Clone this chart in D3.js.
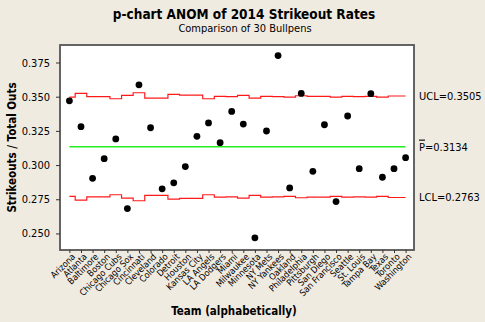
<!DOCTYPE html>
<html><head><meta charset="utf-8">
<script src="https://cdn.jsdelivr.net/npm/d3@7"></script>
<style>
html,body{margin:0;padding:0;background:#F0EBE1;}
svg{display:block;}
text{font-family:"DejaVu Sans Condensed","DejaVu Sans",sans-serif;fill:#000;}
</style></head>
<body>
<svg id="c" width="485" height="322"></svg>
<script>
const teams = ["Arizona","Atlanta","Baltimore","Boston","Chicago Cubs","Chicago Sox","Cincinnati","Cleveland","Colorado","Detroit","Houston","Kansas City","LA Angels","LA Dodgers","Miami","Milwaukee","Minnesota","NY Mets","NY Yankees","Oakland","Philadelphia","Pittsburgh","San Diego","San Francisco","Seattle","St. Louis","Tampa Bay","Texas","Toronto","Washington"];
const rate = [0.3470,0.3281,0.2903,0.3047,0.3191,0.2682,0.3587,0.3273,0.2826,0.2870,0.2989,0.3210,0.3308,0.3164,0.3392,0.3300,0.2468,0.3249,0.3801,0.2833,0.3524,0.2954,0.3295,0.2733,0.3359,0.2974,0.3522,0.2911,0.2974,0.3054];
const ucl = [0.3497,0.3524,0.3500,0.3500,0.3485,0.3509,0.3529,0.3490,0.3490,0.3517,0.3512,0.3512,0.3485,0.3502,0.3500,0.3509,0.3490,0.3502,0.3500,0.3497,0.3507,0.3502,0.3502,0.3497,0.3502,0.3500,0.3502,0.3497,0.3505,0.3505];
const lcl = [0.2771,0.2744,0.2768,0.2768,0.2783,0.2759,0.2739,0.2778,0.2778,0.2751,0.2756,0.2756,0.2783,0.2766,0.2768,0.2759,0.2778,0.2766,0.2768,0.2771,0.2761,0.2766,0.2766,0.2771,0.2766,0.2768,0.2766,0.2771,0.2763,0.2763];
const pBar = 0.3134;
const yTicks = [0.250,0.275,0.300,0.325,0.350,0.375];
const limitLabels = {ucl:"UCL=0.3505", p:"=0.3134", lcl:"LCL=0.2763"};

const svg = d3.select("#c");
const L=60,T=45,R=414,B=250;
const x = d3.scalePoint().domain(teams).range([69.4,405.6]);
const y = d3.scaleLinear().domain([0.2379,0.3878]).range([B,T]);
const step = x.step();

svg.append("rect").attr("x",L).attr("y",T).attr("width",R-L).attr("height",B-T)
  .attr("fill","#fff").attr("stroke","#555").attr("stroke-width",1.8);

// y axis
const ya = svg.append("g").attr("transform",`translate(${L},0)`)
  .call(d3.axisLeft(y).tickValues(yTicks).tickFormat(d3.format(".3f")).tickSize(4).tickPadding(6));
ya.select(".domain").remove();
ya.selectAll("line").attr("stroke","#333");
ya.selectAll("text").style("font-size","11px").style("font-family",'"DejaVu Sans Condensed","DejaVu Sans",sans-serif');

// x axis
const xa = svg.append("g").attr("transform",`translate(0,${B})`)
  .call(d3.axisBottom(x).tickSize(3).tickPadding(2));
xa.select(".domain").remove();
xa.selectAll("line").attr("stroke","#333");
xa.selectAll("text").style("font-size","9px").style("font-family",'"DejaVu Sans Condensed","DejaVu Sans",sans-serif')
  .attr("text-anchor","end").attr("y",4).attr("dy","0.6em").attr("x",-1)
  .attr("transform","rotate(-45)");

// limit step lines
function stepPts(arr){
  const pts=[];
  teams.forEach((t,i)=>{
    const x0 = i===0 ? x(t) : x(t)-step/2;
    const x1 = i===teams.length-1 ? x(t) : x(t)+step/2;
    pts.push([x0,arr[i]],[x1,arr[i]]);
  });
  return pts;
}
const line = d3.line().x(d=>d[0]).y(d=>y(d[1]));
svg.append("path").attr("d",line(stepPts(ucl))).attr("fill","none").attr("stroke","#ff1a1a").attr("stroke-width",1.2);
svg.append("path").attr("d",line(stepPts(lcl))).attr("fill","none").attr("stroke","#ff1a1a").attr("stroke-width",1.2);
svg.append("line").attr("x1",x(teams[0])).attr("x2",x(teams[teams.length-1]))
  .attr("y1",y(pBar)).attr("y2",y(pBar)).attr("stroke","#22ee22").attr("stroke-width",1.4);

// points
svg.append("g").selectAll("circle").data(rate).join("circle")
  .attr("cx",(d,i)=>x(teams[i])).attr("cy",d=>y(d)).attr("r",3.4).attr("fill","#000");

// right labels
const lab = svg.append("g").style("font-size","11px");
lab.append("text").attr("x",419).attr("y",y(ucl[ucl.length-1])).attr("dy","0.35em").text(limitLabels.ucl);
const pt = lab.append("text").attr("x",419).attr("y",y(pBar)).attr("dy","0.35em");
pt.append("tspan").style("text-decoration","overline").text("P");
pt.append("tspan").text(limitLabels.p);
lab.append("text").attr("x",419).attr("y",y(lcl[lcl.length-1])).attr("dy","0.35em").text(limitLabels.lcl);

// titles
svg.append("text").attr("x",244).attr("y",19).attr("text-anchor","middle")
  .style("font-weight","bold").style("font-size","13.5px").text("p-chart ANOM of 2014 Strikeout Rates");
svg.append("text").attr("x",245).attr("y",32).attr("text-anchor","middle")
  .style("font-size","11px").text("Comparison of 30 Bullpens");
svg.append("text").attr("x",234).attr("y",315).attr("text-anchor","middle")
  .style("font-weight","bold").style("font-size","11.5px").text("Team (alphabetically)");
svg.append("text").attr("transform",`translate(16,147.5) rotate(-90)`).attr("text-anchor","middle")
  .style("font-weight","bold").style("font-size","11.5px").text("Strikeouts / Total Outs");
</script>
</body></html>
